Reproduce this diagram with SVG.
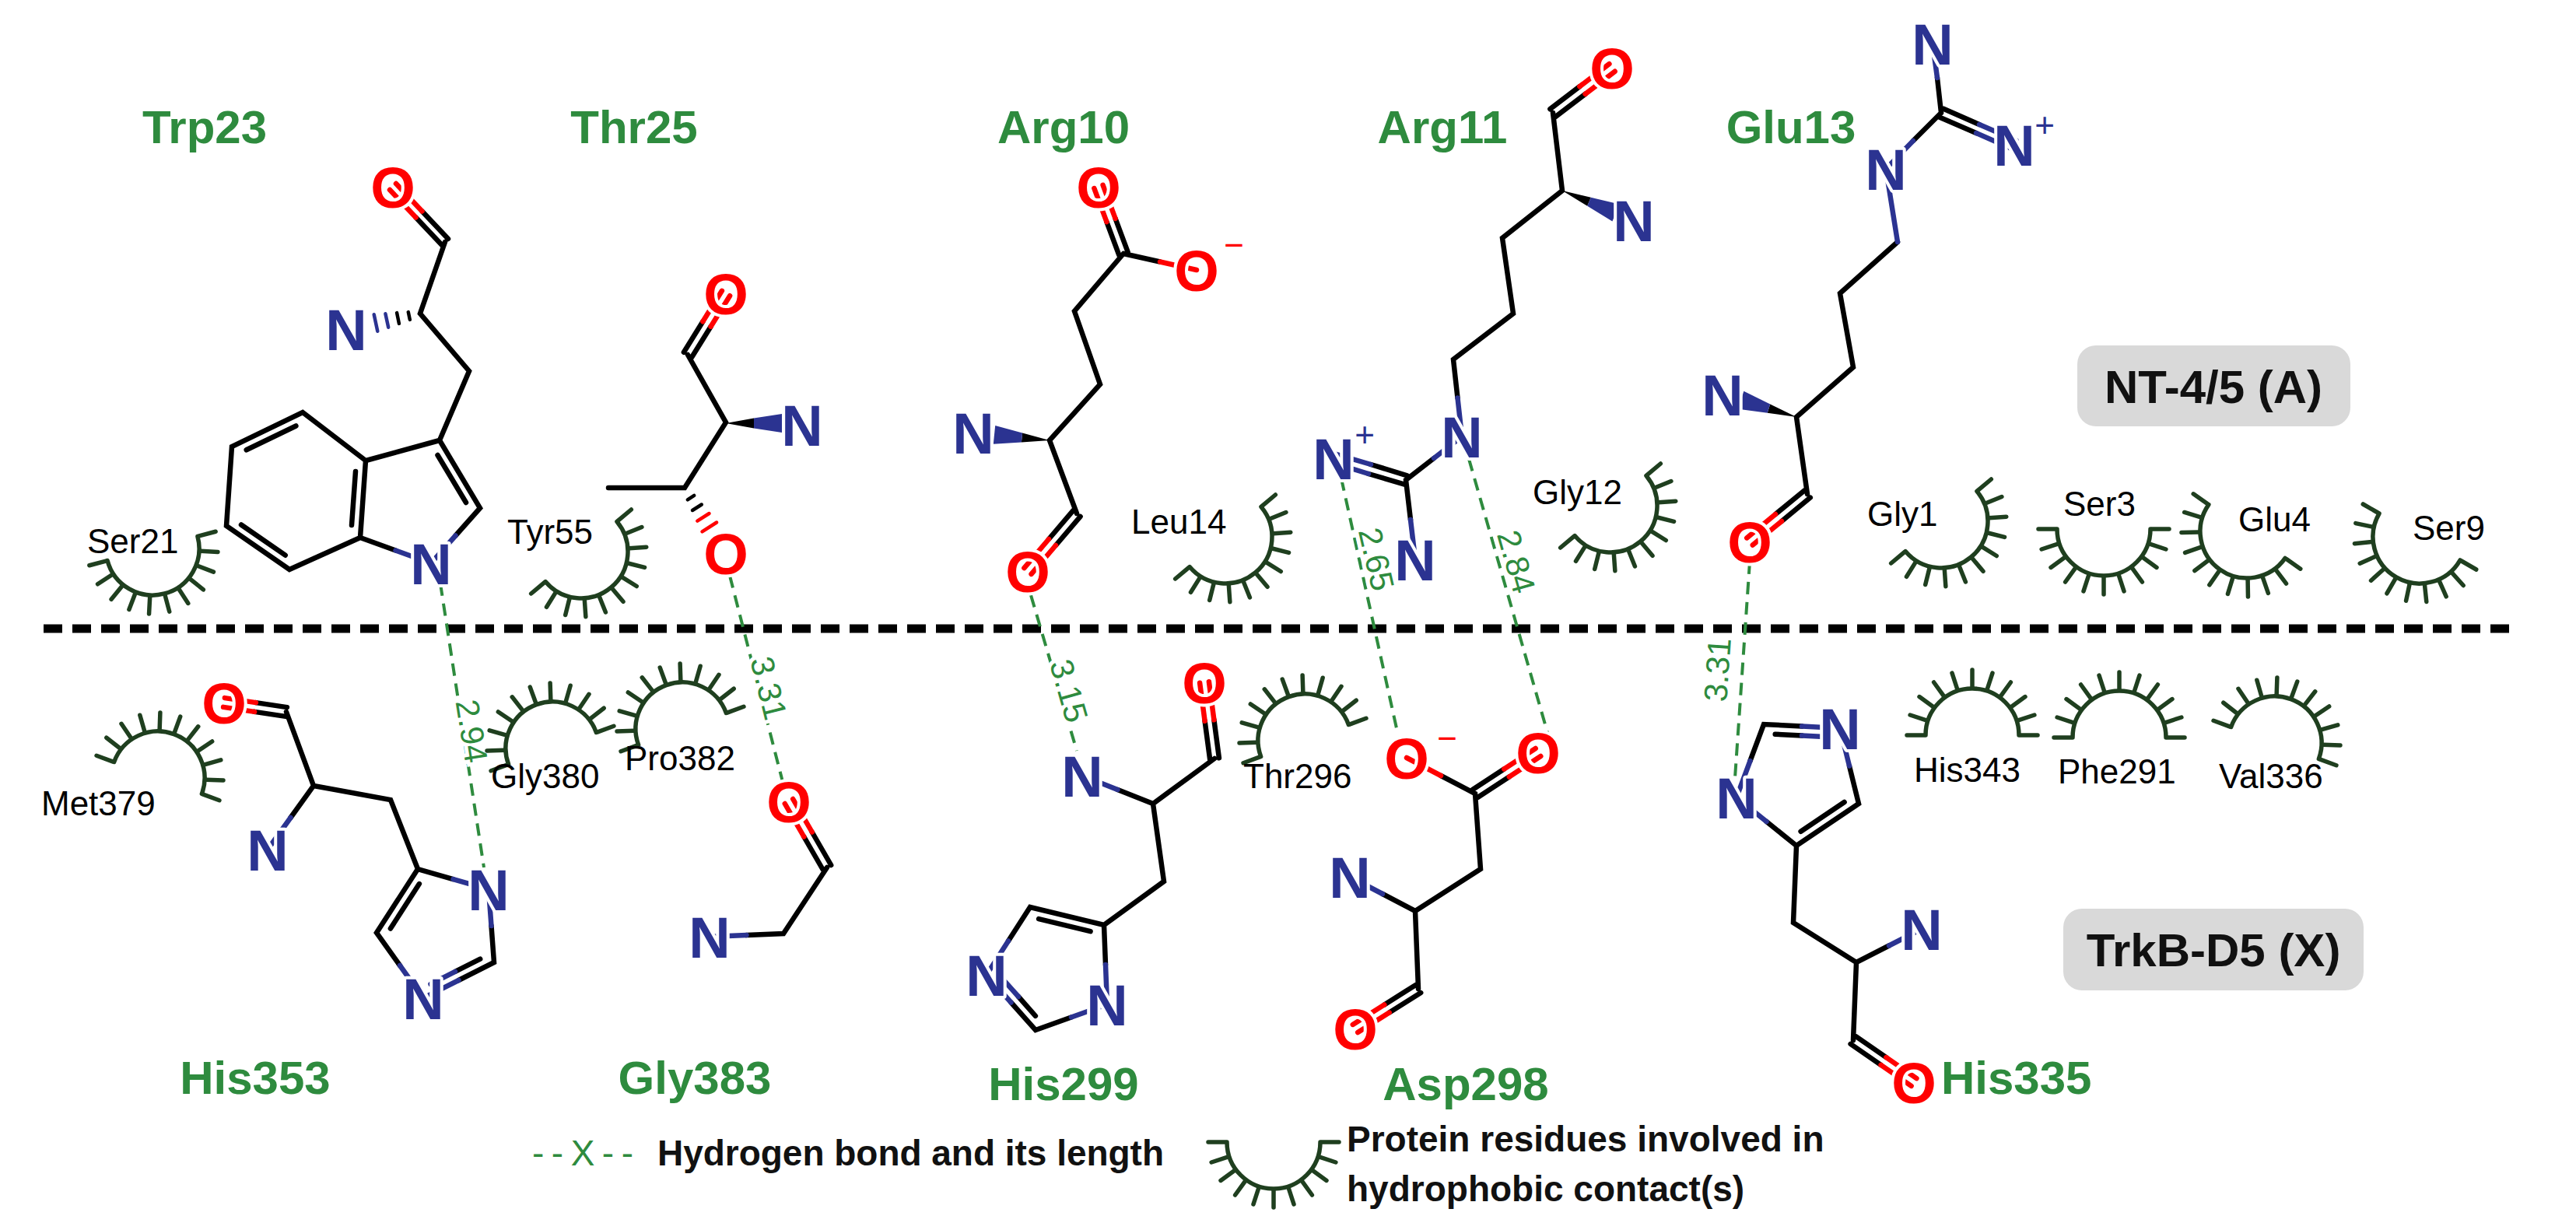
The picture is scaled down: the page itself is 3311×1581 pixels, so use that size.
<svg xmlns="http://www.w3.org/2000/svg" xmlns:xlink="http://www.w3.org/1999/xlink" width="3311" height="1581" viewBox="0 0 3311 1581">
<style>
.b{stroke:#000;stroke-width:6.5;stroke-linecap:round;fill:none}
.bn{stroke:#2b3391;stroke-width:6.5;stroke-linecap:round;fill:none}
.bo{stroke:#ff0000;stroke-width:6.5;stroke-linecap:round;fill:none}
.h{stroke-width:4.5}
.at{font-family:"Liberation Sans",Arial,sans-serif;font-weight:bold;font-size:74px;text-anchor:middle;stroke:#fff;stroke-width:8;paint-order:stroke;stroke-linejoin:round}
.N{fill:#2b3391}.O{fill:#ff0000}
.ch{font-family:"Liberation Sans",Arial,sans-serif;font-size:44px;text-anchor:middle}
.res{font-family:"Liberation Sans",Arial,sans-serif;font-weight:bold;font-size:60px;fill:#2e8b3e;text-anchor:middle}
.hpl{font-family:"Liberation Sans",Arial,sans-serif;font-size:44px;fill:#000}
.hb{stroke:#2e8b3e;stroke-width:4;stroke-dasharray:16 10;fill:none}
.hbl{font-family:"Liberation Sans",Arial,sans-serif;font-size:42px;fill:#2e8b3e;text-anchor:middle;stroke:#fff;stroke-width:10;paint-order:stroke}
.box{fill:#d9d9d9}
.boxt{font-family:"Liberation Sans",Arial,sans-serif;font-weight:bold;font-size:60px;fill:#111;text-anchor:middle}
.leg{font-family:"Liberation Sans",Arial,sans-serif;font-weight:bold;font-size:46px;fill:#111}
</style>
<defs>
<g id="hp" stroke="#1f3f1f" stroke-width="5.5" fill="none" stroke-linecap="round">
<path d="M-60,0 A60,60 0 0,0 60,0"/>
<path d="M62,0L84,0M59,19.2L79.9,26M50.2,36.5L68,49.4M36.5,50.2L49.4,68M19.2,59L26,79.9M0,62L0,84M-19.2,59L-26,79.9M-36.5,50.2L-49.4,68M-50.2,36.5L-68,49.4M-59,19.2L-79.9,26M-62,0L-84,0"/>
</g>
</defs>
<rect width="3311" height="1581" fill="#fff"/>

<g id="connectors">
<line x1="56" y1="808" x2="3228" y2="808" stroke="#000" stroke-width="11" stroke-dasharray="24 13"/>
<line class="hb" x1="566" y1="750" x2="622" y2="1115"/>
<line class="hb" x1="938" y1="740" x2="1006" y2="1005"/>
<line class="hb" x1="1325" y1="765" x2="1384" y2="965"/>
<line class="hb" x1="1724" y1="615" x2="1797" y2="945"/>
<line class="hb" x1="1888" y1="590" x2="1990" y2="945"/>
<line class="hb" x1="2249" y1="722" x2="2230" y2="1000"/>
<text class="hbl" transform="translate(592,942) rotate(81)">2.94</text>
<text class="hbl" transform="translate(974,888) rotate(76)">3.31</text>
<text class="hbl" transform="translate(1360,892) rotate(74)">3.15</text>
<text class="hbl" transform="translate(1755,722) rotate(77)">2.65</text>
<text class="hbl" transform="translate(1935,726) rotate(74)">2.84</text>
<text class="hbl" transform="translate(2222,862) rotate(-86)">3.31</text>
</g>

<g id="Trp23">
<text class="res" x="263" y="184">Trp23</text>
<path class="b" d="M572,311L540,403L603,477L565,566L617,653L585.5,688.5M463,691L508.5,707.5M463,691L470,592L565,566M470,592L389,530L298,574L291,676L372,732L463,691M562.5,585L599,646M457,606L452,675M380.4,547.5L316.7,578.3M310,674.5L366.7,713.7M576,307L542.5,271.5M568,315L534.5,279.5"/>
<path class="bn" d="M585.5,688.5L554,724M508.5,707.5L554,724"/>
<path class="bo" d="M542.5,271.5L509,236M534.5,279.5L501,244"/>
<path class="b h" d="M524.8,401.1L526.8,410.9M510.1,402.1L512.9,415.9"/>
<path class="bn h" d="M495.4,403.2L499.2,420.8M480.7,404.2L485.3,425.8"/>
<text class="at O" x="505" y="267">O</text>
<text class="at N" x="445" y="450">N</text>
<text class="at N" x="554" y="751">N</text>
</g>

<g id="Thr25">
<text class="res" x="815" y="184">Thr25</text>
<path class="b" d="M889.1,459.2L913.6,419.7M878.9,452.8L903.4,413.3M884,456L933,543L880,627L782,627"/>
<path class="bo" d="M913.6,419.7L938.1,380.2M903.4,413.3L927.9,373.8"/>
<polygon points="933,544 969,537.5 969,550.5" fill="#000"/>
<polygon points="969,537.5 1005,532 1005,556 969,550.5" fill="#2b3391"/>
<path class="b h" d="M883.8,642.3L892.2,636.9M890,656L901.8,648.5"/>
<path class="bo h" d="M896.3,669.6L911.5,660M902.5,683.3L921.1,671.5"/>
<text class="at O" x="933" y="404">O</text>
<text class="at N" x="1031" y="573">N</text>
<text class="at O" x="933" y="738">O</text>
</g>

<g id="Arg10">
<text class="res" x="1367" y="184">Arg10</text>
<path class="b" d="M1449.6,323.9L1433.6,280.9M1438.4,328.1L1422.4,285.1M1444,326L1491,336.5M1444,326L1381,400L1414,494L1349,566L1384,660M1388.6,663.9L1357,701M1379.4,656.1L1348,693"/>
<path class="bo" d="M1433.6,280.9L1417.6,237.9M1422.4,285.1L1406.4,242.1M1491,336.5L1538,347M1357,701L1325.6,737.9M1348,693L1316.4,730.1"/>
<polygon points="1349,566 1312.9,568.4 1314.1,556.4" fill="#000"/>
<polygon points="1312.9,568.4 1276.8,570.7 1279.2,546.9 1314.1,556.4" fill="#2b3391"/>
<text class="at O" x="1412" y="267">O</text>
<text class="at O" x="1538" y="374">O</text>
<text class="ch O" x="1586" y="330">−</text>
<text class="at N" x="1251" y="583">N</text>
<text class="at O" x="1321" y="761">O</text>
</g>

<g id="Arg11">
<text class="res" x="1854" y="184">Arg11</text>
<path class="b" d="M1999.6,149.8L2037.6,120.8M1992.4,140.2L2030.4,111.2M1996,145L2008,245L1931,306L1945,403L1868,462L1873.5,511.5M1843,589L1807,617L1813,668M1808.7,611.3L1762,597M1805.3,622.7L1759,609"/>
<path class="bo" d="M2037.6,120.8L2075.6,91.8M2030.4,111.2L2068.4,82.2"/>
<path class="bn" d="M1873.5,511.5L1879,561L1843,589M1813,668L1819,719M1762,597L1715.7,583.3M1759,609L1712.3,594.7"/>
<polygon points="2008,245 2040.2,264.8 2044.8,253.8" fill="#000"/>
<polygon points="2040.2,264.8 2072.4,284.6 2081.6,262.4 2044.8,253.8" fill="#2b3391"/>
<text class="at O" x="2072" y="114">O</text>
<text class="at N" x="2100" y="310">N</text>
<text class="at N" x="1879" y="588">N</text>
<text class="at N" x="1714" y="616">N</text>
<text class="ch N" x="1754" y="574">+</text>
<text class="at N" x="1819" y="746">N</text>
</g>

<g id="Glu13">
<text class="res" x="2302" y="184">Glu13</text>
<path class="b" d="M2495,145L2490,100M2495,145L2459,181M2492.6,150.5L2540,171M2497.4,139.5L2544,160M2439,311L2365,377L2382,472L2309,536L2323,635M2326.8,639.6L2290,670M2319.2,630.4L2282,661"/>
<path class="bn" d="M2490,100L2484,56M2459,181L2424,217L2439,311M2540,171L2586.6,191.5M2544,160L2591.4,180.5"/>
<path class="bo" d="M2290,670L2252.8,700.6M2282,661L2245.2,691.4"/>
<polygon points="2309,536 2275.2,519.4 2271.7,530.8" fill="#000"/>
<polygon points="2275.2,519.4 2241.3,502.8 2234.3,525.8 2271.7,530.8" fill="#2b3391"/>
<text class="at N" x="2484" y="83">N</text>
<text class="at N" x="2589" y="213">N</text>
<text class="ch N" x="2628" y="176">+</text>
<text class="at N" x="2424" y="244">N</text>
<text class="at N" x="2214" y="534">N</text>
<text class="at O" x="2249" y="723">O</text>
</g>

<g id="His353">
<text class="res" x="328" y="1406">His353</text>
<path class="b" d="M368.9,909.1L328.9,903.1M367.1,920.9L327.1,914.9M368,915L403,1010L373.5,1051M403,1010L502,1028L537,1117L582.5,1130M631.5,1190L635,1237L589.5,1260M514,1241L484,1199L537,1117M501.9,1193.5L538.9,1136.1M585,1248.8L617.2,1232.7"/>
<path class="bo" d="M328.9,903.1L288.9,897.1M327.1,914.9L287.1,908.9"/>
<path class="bn" d="M373.5,1051L344,1092M582.5,1130L628,1143L631.5,1190M589.5,1260L544,1283L514,1241M553.5,1264.9L585,1248.8"/>
<text class="at O" x="288" y="930">O</text>
<text class="at N" x="344" y="1119">N</text>
<text class="at N" x="628" y="1170">N</text>
<text class="at N" x="544" y="1310">N</text>
</g>

<g id="Gly383">
<text class="res" x="893" y="1406">Gly383</text>
<path class="b" d="M1068.2,1112L1043.7,1069.5M1057.8,1118L1033.3,1075.5M1063,1115L1007,1200L959.5,1202"/>
<path class="bo" d="M1043.7,1069.5L1019.2,1027M1033.3,1075.5L1008.8,1033"/>
<path class="bn" d="M959.5,1202L912,1204"/>
<text class="at O" x="1014" y="1057">O</text>
<text class="at N" x="912" y="1231">N</text>
</g>

<g id="His299">
<text class="res" x="1367" y="1414">His299</text>
<path class="b" d="M1436.5,1015L1482,1033L1561,975M1566.9,974.2L1560.4,925.2M1555.1,975.8L1548.6,926.8M1482,1033L1496,1133L1419,1189L1324,1166L1296,1209.5M1299.5,1288.5L1331,1324L1377,1307.5M1421,1240L1419,1189M1401.6,1197.2L1335.1,1181.1M1309,1281L1330.9,1305.8"/>
<path class="bo" d="M1560.4,925.2L1553.9,876.2M1548.6,926.8L1542.1,877.8"/>
<path class="bn" d="M1391,997L1436.5,1015M1296,1209.5L1268,1253L1299.5,1288.5M1377,1307.5L1423,1291L1421,1240M1286.8,1256.1L1309,1281"/>
<text class="at O" x="1548" y="904">O</text>
<text class="at N" x="1391" y="1024">N</text>
<text class="at N" x="1268" y="1280">N</text>
<text class="at N" x="1423" y="1318">N</text>
</g>

<g id="Asp298">
<text class="res" x="1884" y="1414">Asp298</text>
<path class="b" d="M1852,997L1896,1020L1903,1117L1819,1171L1777,1149M1819,1171L1823,1271M1899.3,1025L1939.8,998.5M1892.7,1015L1933.2,988.5M1826.2,1276.1L1785.7,1301.6M1819.8,1265.9L1779.3,1291.4"/>
<path class="bo" d="M1808,974L1852,997M1939.8,998.5L1980.3,972M1933.2,988.5L1973.7,962M1785.7,1301.6L1745.2,1327.1M1779.3,1291.4L1738.8,1316.9"/>
<path class="bn" d="M1777,1149L1735,1127"/>
<text class="at O" x="1808" y="1001">O</text>
<text class="ch O" x="1860" y="964">−</text>
<text class="at O" x="1977" y="994">O</text>
<text class="at N" x="1735" y="1154">N</text>
<text class="at O" x="1742" y="1349">O</text>
</g>

<g id="His335">
<text class="res" x="2495" y="1406" style="text-anchor:start">His335</text>
<path class="b" d="M2249.5,978L2267,931L2316,933.5M2377,984.5L2389,1033L2309,1087L2270.5,1056M2281.7,943.8L2316,945.5M2370.6,1031L2314.6,1068.8M2309,1087L2305,1186L2386,1237L2428,1215.5M2386,1237L2382,1337M2378.6,1341.9L2417.6,1368.9M2385.4,1332.1L2424.4,1359.1"/>
<path class="bn" d="M2232,1025L2249.5,978M2316,933.5L2365,936L2377,984.5M2270.5,1056L2232,1025M2316,945.5L2349.7,947.3M2428,1215.5L2470,1194"/>
<path class="bo" d="M2417.6,1368.9L2456.6,1395.9M2424.4,1359.1L2463.4,1386.1"/>
<text class="at N" x="2232" y="1052">N</text>
<text class="at N" x="2365" y="963">N</text>
<text class="at N" x="2470" y="1221">N</text>
<text class="at O" x="2460" y="1418">O</text>
</g>

<g id="hydrophobic">
<use xlink:href="#hp" href="#hp" transform="translate(196,705) rotate(-15)"/>
<text class="hpl" x="112" y="711">Ser21</text>
<use xlink:href="#hp" href="#hp" transform="translate(747,709) rotate(-40)"/>
<text class="hpl" x="652" y="699">Tyr55</text>
<use xlink:href="#hp" href="#hp" transform="translate(1575,690) rotate(-40)"/>
<text class="hpl" x="1454" y="686">Leu14</text>
<use xlink:href="#hp" href="#hp" transform="translate(2070,650) rotate(-40)"/>
<text class="hpl" x="1970" y="648">Gly12</text>
<use xlink:href="#hp" href="#hp" transform="translate(2495,670) rotate(-40)"/>
<text class="hpl" x="2400" y="676">Gly1</text>
<use xlink:href="#hp" href="#hp" transform="translate(2704,680)"/>
<text class="hpl" x="2652" y="663">Ser3</text>
<use xlink:href="#hp" href="#hp" transform="translate(2888,683) rotate(35)"/>
<text class="hpl" x="2877" y="683">Glu4</text>
<use xlink:href="#hp" href="#hp" transform="translate(3110,690) rotate(30)"/>
<text class="hpl" x="3101" y="694">Ser9</text>
<use xlink:href="#hp" href="#hp" transform="translate(203,1000) rotate(200)"/>
<text class="hpl" x="53" y="1048">Met379</text>
<use xlink:href="#hp" href="#hp" transform="translate(710,962) rotate(160)"/>
<text class="hpl" x="631" y="1013">Gly380</text>
<use xlink:href="#hp" href="#hp" transform="translate(877,937) rotate(160)"/>
<text class="hpl" x="803" y="990">Pro382</text>
<use xlink:href="#hp" href="#hp" transform="translate(1677,952) rotate(160)"/>
<text class="hpl" x="1598" y="1013">Thr296</text>
<use xlink:href="#hp" href="#hp" transform="translate(2535,945) rotate(180)"/>
<text class="hpl" x="2460" y="1005">His343</text>
<use xlink:href="#hp" href="#hp" transform="translate(2724,948) rotate(180)"/>
<text class="hpl" x="2645" y="1007">Phe291</text>
<use xlink:href="#hp" href="#hp" transform="translate(2924,955) rotate(200)"/>
<text class="hpl" x="2852" y="1013">Val336</text>
</g>

<g id="NT45">
<rect class="box" x="2670" y="444" width="351" height="104" rx="24"/>
<text class="boxt" x="2845" y="518">NT-4/5 (A)</text>
</g>
<g id="TrkB">
<rect class="box" x="2652" y="1168" width="386" height="105" rx="24"/>
<text class="boxt" x="2845" y="1242">TrkB-D5 (X)</text>
</g>

<g id="legend">
<text class="leg" x="684" y="1498" textLength="130" style="fill:#2e8b3e;font-weight:normal">--X--</text>
<text class="leg" x="845" y="1498" textLength="651">Hydrogen bond and its length</text>
<use xlink:href="#hp" href="#hp" transform="translate(1637,1468)"/>
<text class="leg" x="1731" y="1480">Protein residues involved in</text>
<text class="leg" x="1731" y="1544">hydrophobic contact(s)</text>
</g>
</svg>
